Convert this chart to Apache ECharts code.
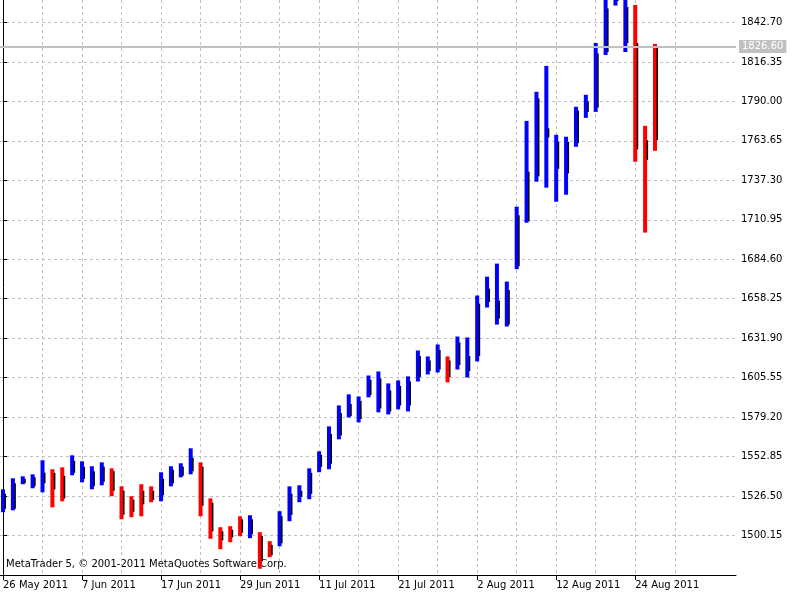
<!DOCTYPE html>
<html>
<head>
<meta charset="utf-8">
<script src="https://cdn.jsdelivr.net/npm/echarts@6/dist/echarts.min.js"></script>
<style>
  html, body { margin: 0; padding: 0; background: #fff; }
  #chart { width: 800px; height: 600px; }
</style>
</head>
<body>
<div id="chart"></div>
<script>
// trading days shown on the chart (index 0 = 26 May 2011)
var dates = [
  '26 May 2011', '27 May 2011', '30 May 2011', '31 May 2011', '1 Jun 2011', '2 Jun 2011', '3 Jun 2011', '6 Jun 2011',
  '7 Jun 2011', '8 Jun 2011', '9 Jun 2011', '10 Jun 2011', '13 Jun 2011', '14 Jun 2011', '15 Jun 2011', '16 Jun 2011',
  '17 Jun 2011', '20 Jun 2011', '21 Jun 2011', '22 Jun 2011', '23 Jun 2011', '24 Jun 2011', '27 Jun 2011', '28 Jun 2011',
  '29 Jun 2011', '30 Jun 2011', '1 Jul 2011', '4 Jul 2011', '5 Jul 2011', '6 Jul 2011', '7 Jul 2011', '8 Jul 2011',
  '11 Jul 2011', '12 Jul 2011', '13 Jul 2011', '14 Jul 2011', '15 Jul 2011', '18 Jul 2011', '19 Jul 2011', '20 Jul 2011',
  '21 Jul 2011', '22 Jul 2011', '25 Jul 2011', '26 Jul 2011', '27 Jul 2011', '28 Jul 2011', '29 Jul 2011', '1 Aug 2011',
  '2 Aug 2011', '3 Aug 2011', '4 Aug 2011', '5 Aug 2011', '8 Aug 2011', '9 Aug 2011', '10 Aug 2011', '11 Aug 2011',
  '12 Aug 2011', '15 Aug 2011', '16 Aug 2011', '17 Aug 2011', '18 Aug 2011', '19 Aug 2011', '22 Aug 2011', '23 Aug 2011',
  '24 Aug 2011', '25 Aug 2011', '26 Aug 2011'
];
var opens = [
  1518, 1518, 1535, 1533, 1535, 1542, 1540, 1542, 1538, 1533, 1536, 1543, 1530, 1524, 1530, 1530,
  1527, 1535, 1540, 1543, 1546, 1522, 1503, 1504, 1511, 1501, 1500, 1494, 1495, 1514, 1526, 1528,
  1546, 1548, 1567, 1580, 1578, 1594, 1585, 1583, 1587, 1587, 1606, 1610, 1611, 1617, 1614, 1610,
  1620, 1656, 1645, 1641, 1680, 1710, 1740, 1766, 1745, 1742, 1762, 1783, 1786, 1823, 1857, 1829,
  1829, 1764, 1826
];
var closes = [
  1528, 1535, 1538, 1539, 1542, 1531, 1525, 1550, 1546, 1543, 1546, 1530, 1514, 1516, 1521, 1524,
  1538, 1544, 1546, 1552, 1520, 1503, 1497, 1499, 1502, 1511, 1483, 1487, 1513, 1528, 1530, 1542,
  1554, 1568, 1582, 1588, 1590, 1604, 1605, 1597, 1600, 1603, 1620, 1617, 1624, 1606, 1629, 1620,
  1655, 1665, 1657, 1664, 1714, 1743, 1792, 1772, 1763, 1763, 1784, 1790, 1822, 1852, 1895, 1853,
  1758, 1751, 1764
];
var lows = [
  1515.7, 1517, 1534.4, 1531.7, 1529, 1519, 1523, 1540.4, 1535.7, 1531, 1533.7, 1526.4, 1511, 1512.4, 1513, 1522.4,
  1523, 1533, 1539, 1541, 1513, 1498, 1491, 1495.7, 1499.7, 1498.4, 1478, 1485.7, 1493, 1509.7, 1522.4, 1524.4,
  1542.4, 1544.4, 1564.4, 1579, 1575.7, 1592.4, 1582.4, 1581, 1584.4, 1583, 1603, 1607.7, 1609, 1602.4, 1611, 1605.7,
  1616.4, 1652.4, 1641, 1639.7, 1678, 1709, 1736.4, 1732.4, 1723, 1727.7, 1759.7, 1779, 1783, 1821, 1854, 1823,
  1749.7, 1702.4, 1757
];
var highs = [
  1531, 1538.4, 1539.7, 1541, 1550.4, 1544.4, 1545.7, 1553.7, 1549.7, 1546.4, 1549, 1545, 1533, 1526.4, 1534.4, 1533,
  1542.4, 1546.4, 1548.4, 1558.4, 1549, 1525, 1505.7, 1506.4, 1513, 1513.7, 1502.4, 1496.4, 1516.4, 1533, 1533.7, 1545,
  1556.4, 1573, 1587, 1594.4, 1593, 1607, 1609.7, 1601.7, 1603.7, 1606.4, 1623.7, 1619.7, 1627.7, 1619.7, 1633, 1632.4,
  1660.4, 1673, 1681.7, 1669.7, 1719.7, 1777, 1796.4, 1813.7, 1767.7, 1766.4, 1786.4, 1794.4, 1829, 1880, 1905, 1880,
  1854.4, 1773.7, 1828.4
];
var lastPrice = 1826.60;
var dateTicks = [0, 8, 16, 24, 32, 40, 48, 56, 64];
var gridTicks = [0, 4, 8, 12, 16, 20, 24, 28, 32, 36, 40, 44, 48, 52, 56, 60, 64, 68, 72];

var bars = [];
for (var i = 0; i < dates.length; i++) {
  bars.push([i, opens[i], closes[i], lows[i], highs[i]]);
}

// MT5 style bar: thick high-low stroke, black strip for the open-close range
function renderBar(params, api) {
  var idx = api.value(0);
  var o = api.value(1), c = api.value(2);
  var pHigh = api.coord([idx, api.value(4)]);
  var pLow = api.coord([idx, api.value(3)]);
  var pOpen = api.coord([idx, o]);
  var pClose = api.coord([idx, c]);
  var color = c >= o ? '#0000ff' : '#ff0000';
  var x = pHigh[0];
  var top = Math.max(pHigh[1], params.coordSys.y);
  return {
    type: 'group',
    children: [
      {
        type: 'rect',
        shape: { x: x - 2, y: top, width: 4, height: pLow[1] - top },
        style: { fill: color }
      },
      {
        type: 'rect',
        shape: { x: x + 1.5, y: Math.min(pOpen[1], pClose[1]), width: 1.5, height: Math.abs(pOpen[1] - pClose[1]) },
        style: { fill: '#000' }
      }
    ]
  };
}

var font = 'DejaVu Sans';
var gridLine = { show: true, showMaxLine: false, lineStyle: { color: '#c0c0c0', type: [3, 3], width: 1 } };

var option = {
  backgroundColor: '#ffffff',
  animation: false,
  grid: { left: 0, right: 64, top: 0, bottom: 25, containLabel: false },
  xAxis: [{
    type: 'value',
    min: -0.304,
    max: 74.2,
    position: 'bottom',
    axisLine: { show: true, lineStyle: { color: '#000', width: 1 } },
    axisTick: { show: false, customValues: gridTicks },
    axisLabel: {
      customValues: dateTicks,
      align: 'left',
      margin: 5,
      color: '#000',
      fontFamily: font,
      fontSize: 10,
      formatter: function (v) { return dates[v] || ''; }
    },
    splitLine: gridLine
  }, {
    type: 'value',
    min: -0.304,
    max: 74.2,
    position: 'bottom',
    axisLine: { show: false },
    axisTick: { show: true, customValues: dateTicks, length: 5, lineStyle: { color: '#000' } },
    axisLabel: { show: false },
    splitLine: { show: false }
  }],
  yAxis: {
    type: 'value',
    position: 'right',
    min: 1473.80,
    max: 1857.7,
    interval: 26.35,
    axisLine: { show: true, lineStyle: { color: '#000', width: 1 } },
    axisTick: { show: true, length: 4, lineStyle: { color: '#000' } },
    axisLabel: {
      showMinLabel: false,
      showMaxLabel: false,
      margin: 5,
      color: '#000',
      fontFamily: font,
      fontSize: 10,
      formatter: function (v) { return v.toFixed(2); }
    },
    splitLine: gridLine
  },
  graphic: [{
    type: 'text',
    left: 6,
    top: 559,
    style: {
      text: 'MetaTrader 5, © 2001-2011 MetaQuotes Software Corp.',
      fill: '#000',
      font: '10px "DejaVu Sans"'
    }
  }],
  series: [{
    type: 'custom',
    renderItem: renderBar,
    encode: { x: 0, y: [1, 2, 3, 4] },
    data: bars,
    markLine: {
      silent: true,
      symbol: ['none', 'none'],
      lineStyle: { color: '#c0c0c0', width: 2, type: 'solid' },
      label: {
        position: 'end',
        distance: 3,
        formatter: lastPrice.toFixed(2),
        color: '#ffffff',
        backgroundColor: '#c0c0c0',
        padding: [2, 3, 1, 3],
        fontFamily: font,
        fontSize: 10
      },
      data: [{ yAxis: lastPrice }]
    }
  }]
};

var myChart = echarts.init(document.getElementById('chart'));
myChart.setOption(option);
</script>
</body>
</html>
